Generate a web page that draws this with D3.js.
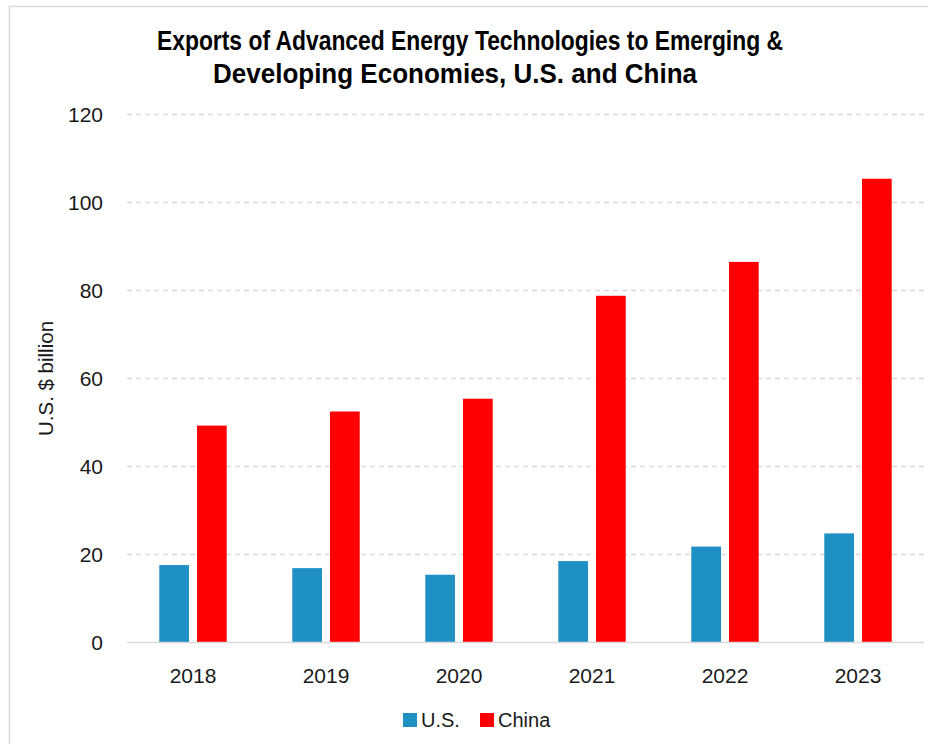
<!DOCTYPE html>
<html>
<head>
<meta charset="utf-8">
<script src="https://cdn.jsdelivr.net/npm/d3@7"></script>
<style>
  body { margin: 0; background: #fff; }
  text { font-family: "Liberation Sans", Arial, sans-serif; fill: #1a1a1a; }
  .title { font-family: "Liberation Sans", Arial, sans-serif; font-weight: bold; fill: #000; }
</style>
</head>
<body>
<div id="chart-area"></div>
<script>
// data (U.S. $ billion)
var years = ["2018", "2019", "2020", "2021", "2022", "2023"];
var series = ["U.S.", "China"];
var usValues = [17.6, 16.9, 15.4, 18.5, 21.8, 24.8];
var chinaValues = [49.3, 52.5, 55.4, 78.8, 86.5, 105.4];
var yTicks = [0, 20, 40, 60, 80, 100, 120];
var titleLines = ["Exports of Advanced Energy Technologies to Emerging &", "Developing Economies, U.S. and China"];
var colors = ["#1f90c3", "#ff0000"];

var width = 928, height = 744;

var svg = d3.select("#chart-area")
  .append("svg")
    .attr("width", width)
    .attr("height", height);

// frame (light border on the left and top)
svg.append("path")
  .attr("d", "M9.5,744 V6.5 H928")
  .attr("fill", "none")
  .attr("stroke", "#d9d9d9")
  .attr("stroke-width", 1.5);

// Title - squeezed to the reference line extents (condensed bold look)
var titleLeft = [157, 213], titleWidth = [626, 484];
svg.selectAll(".title")
  .data(titleLines)
  .enter().append("text")
    .attr("class", "title")
    .attr("x", function(d, i) { return titleLeft[i]; })
    .attr("y", function(d, i) { return 50 + i * 33; })
    .attr("font-size", "27px")
    .attr("textLength", function(d, i) { return titleWidth[i]; })
    .attr("lengthAdjust", "spacingAndGlyphs")
    .text(function(d) { return d; });

// Scales
var x0 = d3.scaleBand()
  .domain(years)
  .range([126.5, 924.5])
  .paddingInner(0.493)
  .paddingOuter(0.2465);
var x1 = d3.scaleBand()
  .domain(series)
  .range([0, x0.bandwidth()])
  .paddingInner(0.212);
var y = d3.scaleLinear()
  .domain([0, 120])
  .range([642.5, 114.5]);

// gridlines
svg.append("g")
  .selectAll("line")
  .data(yTicks.filter(function(d) { return d > 0; }))
  .enter().append("line")
    .attr("x1", 127).attr("x2", 924)
    .attr("y1", function(d) { return y(d); })
    .attr("y2", function(d) { return y(d); })
    .attr("stroke", "#d9d9d9")
    .attr("stroke-width", 1.5)
    .attr("stroke-dasharray", "5,4");

// y axis labels
var yAxis = d3.axisLeft(y).tickValues(yTicks).tickSize(0).tickPadding(0);
var yAxisGroup = svg.append("g")
  .attr("transform", "translate(103,0)")
  .call(yAxis);
yAxisGroup.select(".domain").remove();
yAxisGroup.selectAll("text")
  .attr("font-size", "21px")
  .attr("font-family", "Liberation Sans, Arial, sans-serif")
  .attr("fill", "#1a1a1a");

// bars
var rows = years.map(function(yr, i) {
  return { year: yr, values: [usValues[i], chinaValues[i]] };
});
var groups = svg.append("g")
  .selectAll("g")
  .data(rows)
  .enter().append("g")
    .attr("transform", function(d) { return "translate(" + x0(d.year) + ",0)"; });
groups.selectAll("rect")
  .data(function(d) { return d.values.map(function(v, j) { return { key: series[j], value: v, idx: j }; }); })
  .enter().append("rect")
    .attr("x", function(d) { return x1(d.key); })
    .attr("width", x1.bandwidth())
    .attr("y", function(d) { return y(d.value); })
    .attr("height", function(d) { return y(0) - y(d.value); })
    .attr("fill", function(d) { return colors[d.idx]; });

// baseline + x axis labels
var xAxis = d3.axisBottom(x0).tickSize(0).tickPadding(0);
var xAxisGroup = svg.append("g")
  .attr("transform", "translate(0," + y(0) + ")")
  .call(xAxis);
xAxisGroup.select(".domain").remove();
xAxisGroup.selectAll("text")
  .attr("y", 40)
  .attr("dy", 0)
  .attr("font-size", "21px")
  .attr("font-family", "Liberation Sans, Arial, sans-serif")
  .attr("fill", "#1a1a1a");
svg.append("line")
  .attr("x1", 127).attr("x2", 924)
  .attr("y1", y(0)).attr("y2", y(0))
  .attr("stroke", "#d9d9d9")
  .attr("stroke-width", 1.5);

// y label
svg.append("text")
  .attr("transform", "translate(53," + y(60) + ") rotate(-90)")
  .attr("text-anchor", "middle")
  .attr("font-size", "20.5px")
  .text("U.S. $ billion");

// legend
var legendX = [403, 480];
var legend = svg.append("g")
  .selectAll("g")
  .data(series)
  .enter().append("g")
    .attr("transform", function(d, i) { return "translate(" + legendX[i] + ",713)"; });
legend.append("rect")
  .attr("width", 14).attr("height", 14)
  .attr("fill", function(d, i) { return colors[i]; });
legend.append("text")
  .attr("x", 18).attr("y", 14)
  .attr("font-size", "20px")
  .text(function(d) { return d; });
</script>
</body>
</html>
